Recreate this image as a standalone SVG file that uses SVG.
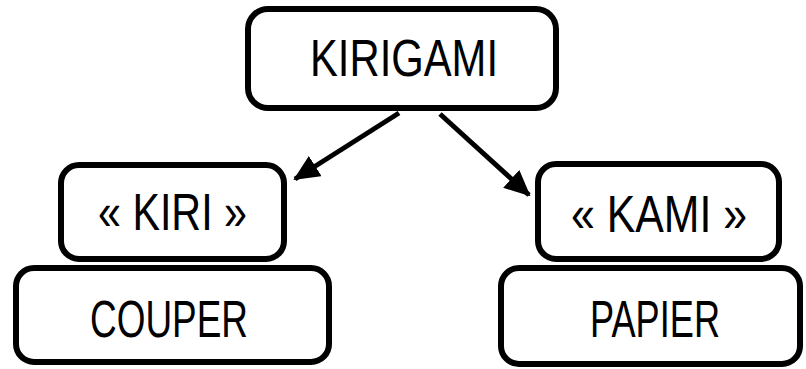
<svg xmlns="http://www.w3.org/2000/svg" width="806" height="369" viewBox="0 0 806 369">
<style>
.box{fill:#fff;stroke:#000;stroke-width:6}
.lbl{font-family:"Liberation Sans",Arial,sans-serif;font-size:52px;fill:#000;text-anchor:middle}
.conn{stroke:#000;stroke-width:5;fill:none}
</style>
<defs>
<marker id="ah" markerUnits="userSpaceOnUse" markerWidth="26" markerHeight="24" refX="24" refY="12" orient="auto" viewBox="0 0 26 24">
<path d="M0,0 L26,12 L0,24 Z" fill="#000"/>
</marker>
</defs>
<rect width="806" height="369" fill="#fff"/>
<g id="connectors">
<line class="conn" x1="399" y1="113" x2="295" y2="179" marker-end="url(#ah)"/>
<line class="conn" x1="440" y1="114" x2="529" y2="195" marker-end="url(#ah)"/>
</g>
<g id="kirigami">
<rect class="box" x="248" y="9" width="308" height="99" rx="20"/>
<text class="lbl" x="404" y="76" textLength="188" lengthAdjust="spacingAndGlyphs">KIRIGAMI</text>
</g>
<g id="couper">
<rect class="box" x="16" y="268" width="313" height="94" rx="18"/>
<text class="lbl" x="169" y="337" font-size="56" textLength="158" lengthAdjust="spacingAndGlyphs">COUPER</text>
</g>
<g id="kiri">
<rect class="box" x="61" y="165" width="223" height="94" rx="18"/>
<text class="lbl" x="172.5" y="230" textLength="149" lengthAdjust="spacingAndGlyphs">« KIRI »</text>
</g>
<g id="papier">
<rect class="box" x="501" y="268" width="299" height="96" rx="18"/>
<text class="lbl" x="655" y="337" font-size="54" textLength="130" lengthAdjust="spacingAndGlyphs">PAPIER</text>
</g>
<g id="kami">
<rect class="box" x="538" y="164" width="241" height="95" rx="18"/>
<text class="lbl" x="659" y="232" textLength="176" lengthAdjust="spacingAndGlyphs">« KAMI »</text>
</g>
</svg>
